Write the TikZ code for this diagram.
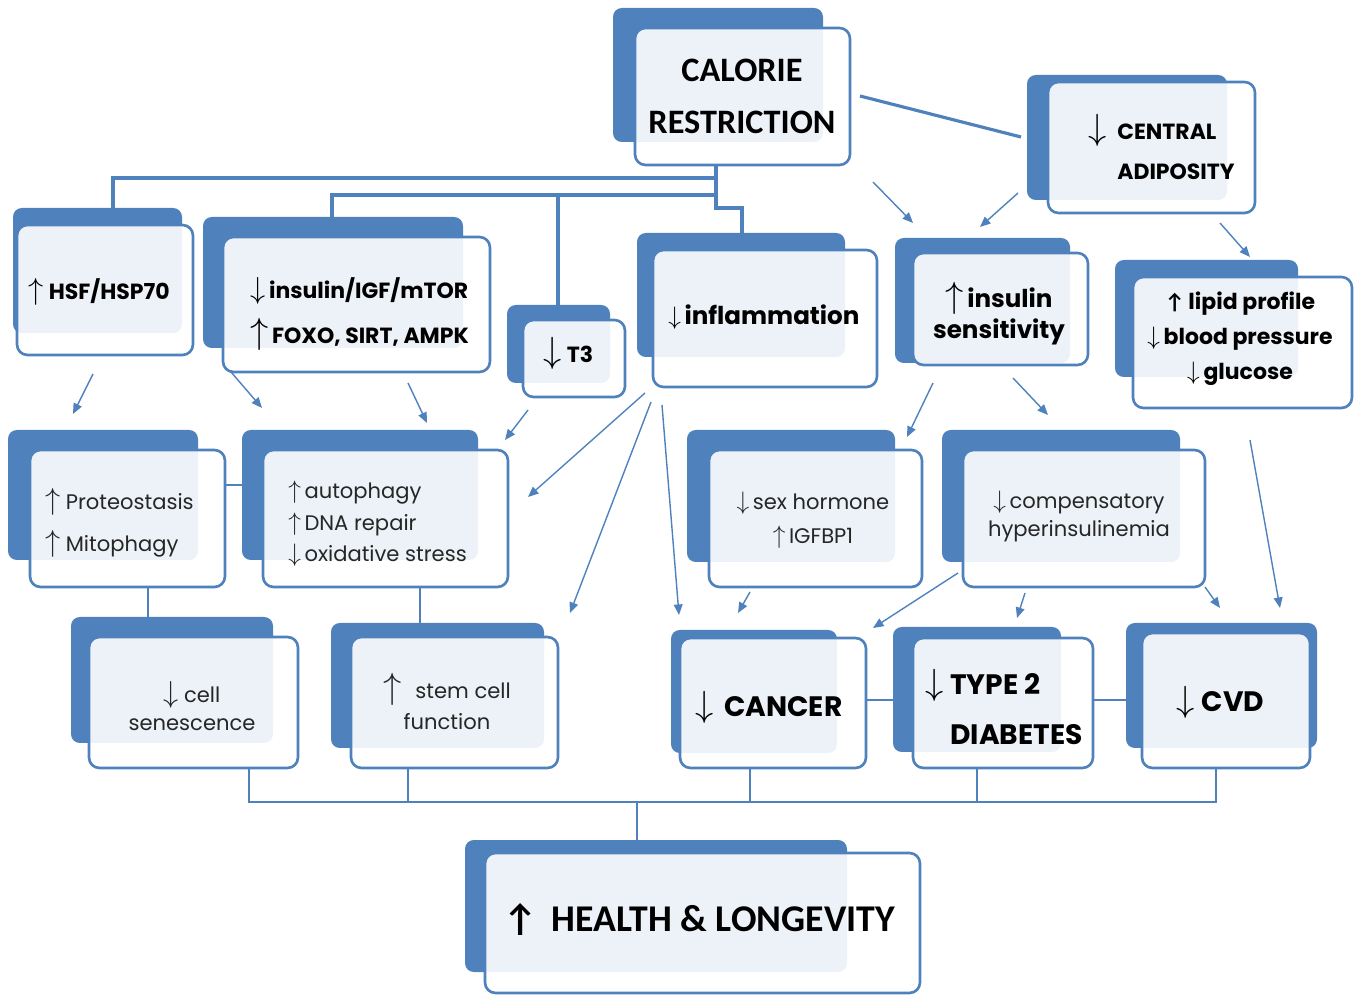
\documentclass[tikz,border=0pt]{standalone}
\usepackage{fontspec}
\setmainfont{Poppins}
\newfontfamily\calfont{Carlito}
\usetikzlibrary{arrows.meta,fit}
\definecolor{boxBlue}{HTML}{4F81BD}
\definecolor{txtGray}{HTML}{262626}
\newcommand{\uarr}[1]{{\fontsize{#1}{#1}\selectfont$\uparrow$}}
\newcommand{\darr}[1]{{\fontsize{#1}{#1}\selectfont$\downarrow$}}

\begin{document}
\begin{tikzpicture}[
    x=0.02cm, y=-0.02cm,
    backbox/.style  = {fill=boxBlue, rounded corners=5pt, inner sep=0pt},
    frontbox/.style = {draw=boxBlue, line width=1.5pt, fill=white, fill opacity=0.9, rounded corners=6pt, inner sep=0pt},
    trunk/.style    = {draw=boxBlue, line width=1.8pt},
    link/.style     = {draw=boxBlue, line width=0.8pt},
    arr/.style      = {draw=boxBlue, line width=0.8pt, -{Triangle[length=6pt,width=5pt]}},
    txt/.style      = {font=\fontsize{12}{#1}\selectfont, text=txtGray, inner sep=0pt, align=center},
    txt/.default    = 16pt,
    btxt/.style     = {font=\fontsize{12.5}{#1}\selectfont\bfseries, text=black, inner sep=0pt, align=center},
    btxt/.default   = 16pt,
    htxt/.style     = {font=\fontsize{16}{#1}\selectfont\bfseries, text=black, inner sep=0pt, align=center},
    htxt/.default   = 18pt,
    ttl/.style      = {font=\fontsize{19.5}{#1}\selectfont\calfont\bfseries, text=black, inner sep=0pt, align=center},
    ttl/.default    = 22pt
  ]
  \useasboundingbox (0,0) rectangle (1360,996);

  %% boxes: dark back card, then light front card
  \node[backbox,  fit={(613,8) (823,142)}]    (crB) {};
  \node[frontbox, fit={(635,28) (850,165)}]   (cr) {};
  \node[backbox,  fit={(1027,75) (1227,200)}] (caB) {};
  \node[frontbox, fit={(1048,82) (1255,213)}] (ca) {};
  \node[backbox,  fit={(13,208) (182,333)}]   (hsfB) {};
  \node[frontbox, fit={(17,225) (193,355)}]   (hsf) {};
  \node[backbox,  fit={(203,217) (463,348)}]  (igfB) {};
  \node[frontbox, fit={(223,237) (490,372)}]  (igf) {};
  \node[backbox,  fit={(507,305) (610,383)}]  (tthreeB) {};
  \node[frontbox, fit={(523,320) (625,397)}]  (tthree) {};
  \node[backbox,  fit={(637,233) (845,357)}]  (inflB) {};
  \node[frontbox, fit={(653,250) (877,387)}]  (infl) {};
  \node[backbox,  fit={(895,238) (1070,363)}] (isensB) {};
  \node[frontbox, fit={(913,253) (1088,365)}] (isens) {};
  \node[backbox,  fit={(1115,260) (1298,377)}] (lipidB) {};
  \node[frontbox, fit={(1133,277) (1352,408)}] (lipid) {};
  \node[backbox,  fit={(8,430) (198,560)}]    (protB) {};
  \node[frontbox, fit={(30,450) (225,587)}]   (prot) {};
  \node[backbox,  fit={(242,430) (478,560)}]  (autoB) {};
  \node[frontbox, fit={(263,450) (508,587)}]  (auto) {};
  \node[backbox,  fit={(687,430) (895,562)}]  (sexhB) {};
  \node[frontbox, fit={(709,450) (922,587)}]  (sexh) {};
  \node[backbox,  fit={(942,430) (1180,562)}] (compB) {};
  \node[frontbox, fit={(963,450) (1205,587)}] (comp) {};
  \node[backbox,  fit={(71,617) (273,743)}]   (senB) {};
  \node[frontbox, fit={(89,637) (298,768)}]   (sen) {};
  \node[backbox,  fit={(331,623) (544,748)}]  (stemB) {};
  \node[frontbox, fit={(351,637) (558,768)}]  (stem) {};
  \node[backbox,  fit={(671,630) (837,753)}]  (cancerB) {};
  \node[frontbox, fit={(680,638) (866,768)}]  (cancer) {};
  \node[backbox,  fit={(893,627) (1061,752)}] (dmB) {};
  \node[frontbox, fit={(913,638) (1093,768)}] (dm) {};
  \node[backbox,  fit={(1126,623) (1317,748)}] (cvdB) {};
  \node[frontbox, fit={(1142,633) (1310,768)}] (cvd) {};
  \node[backbox,  fit={(465,840) (847,972)}]  (healthB) {};
  \node[frontbox, fit={(485,853) (920,993)}]  (health) {};

  %% labels
  \node[ttl=29.5pt] (crT) at (742,96) {CALORIE\\RESTRICTION};
  \node[btxt=23pt, align=left, anchor=west] (caT) at (1117,147) {\llap{\darr{22}\hspace{6pt}}CENTRAL\\ADIPOSITY};
  \node[btxt, anchor=west] (hsfT) at (28,292) {\uarr{16}\hspace{3pt}HSF/HSP70};
  \node[btxt=26pt, align=left, anchor=west] (igfT) at (250,314) {\darr{17}\hspace{2pt}insulin/IGF/mTOR\\\uarr{21}\hspace{2pt}FOXO, SIRT, AMPK};
  \node[btxt, anchor=west] (tthreeT) at (543,353) {\darr{22}\hspace{3pt}T3};
  \node[btxt, font=\fontsize{14}{16}\selectfont\bfseries, anchor=west] (inflT) at (668,317) {\darr{14}\hspace{2pt}inflammation};
  \node[btxt=17.6pt, font=\fontsize{14}{17.6}\selectfont\bfseries] (isensT) at (999,314) {\uarr{20}\hspace{2pt}insulin\\sensitivity};
  \node[btxt=20pt] (lipidT) at (1240,339) {{\calfont ↑}\,lipid profile\\\darr{14}\,blood pressure\\\darr{14}\,glucose};
  \node[txt=23.8pt, align=left, anchor=west] (protT) at (45,523) {\uarr{16}\hspace{3pt}Proteostasis\\\uarr{16}\hspace{3pt}Mitophagy};
  \node[txt=18pt, align=left, anchor=west] (autoT) at (288,524) {\uarr{14}\hspace{2pt}autophagy\\\uarr{14}\hspace{2pt}DNA repair\\\darr{14}\hspace{2pt}oxidative stress};
  \node[txt=19.3pt] (sexhT) at (813,520) {\darr{14}\hspace{2pt}sex hormone\\\uarr{14}\hspace{2pt}IGFBP1};
  \node[txt=15.9pt] (compT) at (1079,516) {\darr{14}\hspace{2pt}compensatory\\hyperinsulinemia};
  \node[txt=15.9pt] (senT) at (192,706) {\darr{16}\hspace{3pt}cell\\senescence};
  \node[txt=17.6pt] (stemT) at (447,701) {\uarr{21}\hspace{8pt}stem cell\\function};
  \node[htxt, anchor=west] (cancerT) at (695,707) {\darr{22}\hspace{6pt}CANCER};
  \node[htxt=28.4pt, align=left, anchor=west] (dmT) at (950,707) {\llap{\darr{22}\hspace{4pt}}TYPE 2\\DIABETES};
  \node[htxt, anchor=west] (cvdT) at (1176,702) {\darr{22}\hspace{4pt}CVD};
  \node[ttl, font=\fontsize{21.5}{24}\selectfont\calfont\bfseries, anchor=west] (healthT) at (503,920) {↑\hspace{8pt}HEALTH \& LONGEVITY};

  %% calorie restriction trunk
  \draw[trunk] (cr.south -| 716,0) -- (716,208) -| (inflB.north -| 742,0);
  \draw[trunk] (716,178) -| (hsfB.north -| 113,0);
  \draw[trunk] (716,195) -| (igfB.north -| 332,0);
  \draw[trunk] (558,195) -- (tthreeB.north -| 558,0);
  \coordinate (crOut) at (860,96);
  \coordinate (caIn)  at (1021,137);
  \draw[trunk] (crOut) -- (caIn);

  %% plain links
  \draw[link] (prot.east |- 0,485) -- (autoB.west |- 0,485);
  \draw[link] (prot.south -| 148,0) -- (senB.north -| 148,0);
  \draw[link] (auto.south -| 420,0) -- (stemB.north -| 420,0);
  \draw[link] (cancer.east |- 0,700) -- (dmB.west |- 0,700);
  \draw[link] (dm.east |- 0,700) -- (cvdB.west |- 0,700);

  %% bus to health
  \coordinate (busL) at (249,802);
  \coordinate (busR) at (1216,802);
  \draw[link] (sen.south -| busL) -- (busL) -- (busR) -- (cvd.south -| busR);
  \draw[link] (stem.south -| 408,0) -- (408,802);
  \draw[link] (cancer.south -| 750,0) -- (750,802);
  \draw[link] (dm.south -| 977,0) -- (977,802);
  \draw[link] (637,802) -- (healthB.north -| 637,0);

  %% arrow ends
  \coordinate (a1) at (873,182);  \coordinate (b1) at (913,223);
  \coordinate (a2) at (1018,193); \coordinate (b2) at (980,227);
  \coordinate (a3) at (1220,223); \coordinate (b3) at (1250,257);
  \coordinate (a4) at (93,374);   \coordinate (b4) at (73,414);
  \coordinate (a5) at (231,372);  \coordinate (b5) at (262,408);
  \coordinate (a6) at (408,383);  \coordinate (b6) at (427,423);
  \coordinate (a7) at (528,410);  \coordinate (b7) at (505,440);
  \coordinate (a8) at (645,393);  \coordinate (b8) at (528,497);
  \coordinate (a9) at (651,402);  \coordinate (b9) at (570,613);
  \coordinate (a10) at (662,405); \coordinate (b10) at (679,615);
  \coordinate (a11) at (933,383); \coordinate (b11) at (907,437);
  \coordinate (a12) at (1013,378); \coordinate (b12) at (1048,415);
  \coordinate (a13) at (750,592); \coordinate (b13) at (738,613);
  \coordinate (a14) at (958,573); \coordinate (b14) at (873,628);
  \coordinate (a15) at (1025,593); \coordinate (b15) at (1017,618);
  \coordinate (a16) at (1205,587); \coordinate (b16) at (1220,608);
  \coordinate (a17) at (1250,440); \coordinate (b17) at (1280,608);
  \foreach \i in {1,...,17}{\draw[arr] (a\i) -- (b\i);}
\end{tikzpicture}
\end{document}
